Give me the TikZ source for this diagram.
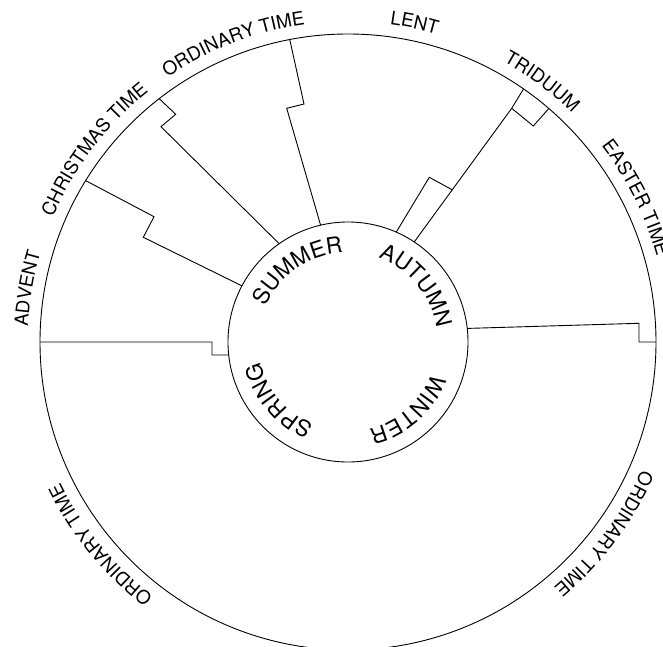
\documentclass[tikz,border=0pt]{standalone}
\usepackage{fontspec}
\newfontfamily\heros{TeX Gyre Heros}
\usetikzlibrary{calc,decorations.text}
\newcommand{\periodfont}{\heros\fontsize{18.7}{20}\selectfont}
\newcommand{\seasonfont}{\heros\fontsize{22.4}{24}\selectfont}

\begin{document}
\begin{tikzpicture}[x=1pt, y=1pt, line width=0.9pt]
\tikzset{periodlabel/.style={decorate,decoration={text along path,text align=center}},
seasonlabel/.style={decorate,decoration={text along path,text align=center}}}

\useasboundingbox (-348,-304) rectangle (315,342);

\coordinate (c) at (0,0);
\draw (c) circle[radius=308];
\draw (c) circle[radius=120];

% advent
\coordinate (a0) at (180:308);
\coordinate (a1) at (-136,0);
\coordinate (a2) at (-136,-13);
\coordinate (a3) at (186.2:120);
% christmas time
\coordinate (b0) at (148.4:308);
\coordinate (b1) at (-194,125.3);
\coordinate (b2) at (-204.7,104.7);
\coordinate (b3) at (152.1:120);
% ordinary time
\coordinate (d0) at (127.8:308);
\coordinate (d1) at (-172.3,227.7);
\coordinate (d2) at (-187,215.3);
\coordinate (d3) at (125:120);
% lent
\coordinate (e0) at (100.9:308);
\coordinate (e1) at (-44,238);
\coordinate (e2) at (-61.3,233.7);
\coordinate (e3) at (103.2:120);
% triduum
\coordinate (t0) at (55.25:308);
\coordinate (t1) at (163.7,233.7);
\coordinate (t2) at (185.3,216);
\coordinate (t3) at (49.3:308);
\coordinate (t4) at (56.5:120);
\coordinate (t5) at ($(t1)!0.61!(t4)$);
\coordinate (t6) at (81.3,164.7);
\coordinate (t7) at (66.3:120);
% easter time
\coordinate (f0) at (0:308);
\coordinate (f1) at (291,0);
\coordinate (f2) at (291,18.7);
\coordinate (f3) at (6.5:120);

%% Edges
\draw (a0) -- (a1) -- (a2) -- (a3);
\draw (b0) -- (b1) -- (b2) -- (b3);
\draw (d0) -- (d1) -- (d2) -- (d3);
\draw (e0) -- (e1) -- (e2) -- (e3);
\draw (t0) -- (t1) -- (t2) -- (t3);
\draw (t1) -- (t4);
\draw (t5) -- (t6) -- (t7);
\draw (f0) -- (f1) -- (f2) -- (f3);

%% Labels
\foreach \ang/\lab in {170.5/ADVENT, 142.8/CHRISTMAS TIME, 111/ORDINARY TIME, 78.2/LENT,
  53.3/TRIDUUM, 26.6/EASTER TIME, -36.8/ORDINARY TIME, 219.3/ORDINARY TIME}
  \path[periodlabel,decoration={text/.expanded={|\noexpand\periodfont|\lab}}]
    (\ang+45:320.3) arc[start angle=\ang+45, end angle=\ang-45, radius=320.3];
\foreach \ang/\lab in {125/SUMMER, 39.5/AUTUMN, -48.4/WINTER, 220/SPRING}
  \path[seasonlabel,decoration={text/.expanded={|\noexpand\seasonfont|\lab}}]
    (\ang+70:89.5) arc[start angle=\ang+70, end angle=\ang-70, radius=89.5];

\end{tikzpicture}
\end{document}
